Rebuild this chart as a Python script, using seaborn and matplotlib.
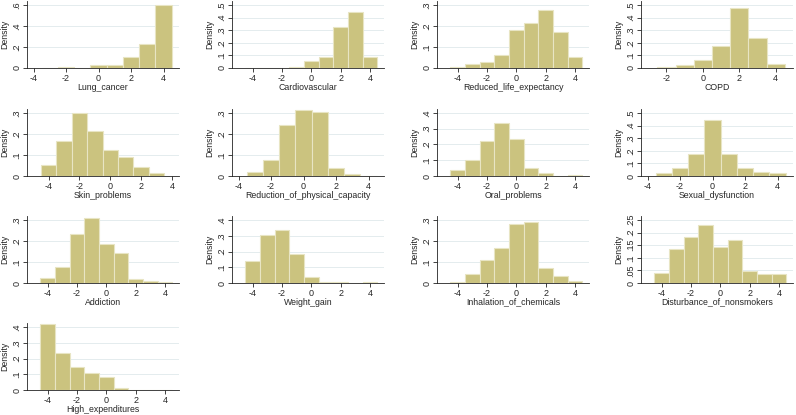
import numpy as np
import pandas as pd
import matplotlib
matplotlib.use("Agg")
import matplotlib.pyplot as plt
import seaborn as sns

# -----------------------------
# DATA (bin centres, density per bin)
# -----------------------------
names = ["Lung_cancer", "Cardiovascular", "Reduced_life_expectancy", "COPD",
         "Skin_problems", "Reduction_of_physical_capacity", "Oral_problems", "Sexual_dysfunction",
         "Addiction", "Weight_gain", "Inhalation_of_chemicals", "Disturbance_of_nonsmokers",
         "High_expenditures"]

lung_cancer = [0.004, 0.007, 0.003, 0.025, 0.031, 0.106, 0.233, 0.600]
cardiovascular = [0.002, 0.002, 0.002, 0.010, 0.052, 0.086, 0.326, 0.445, 0.086]
reduced_life = [0.006, 0.020, 0.028, 0.063, 0.181, 0.213, 0.275, 0.170, 0.053]
copd = [0.010, 0.026, 0.065, 0.177, 0.474, 0.242, 0.029]
skin = [0.050, 0.169, 0.298, 0.216, 0.123, 0.089, 0.045, 0.012]
physical = [0.020, 0.075, 0.241, 0.315, 0.305, 0.039, 0.008, 0.002]
oral = [0.035, 0.104, 0.222, 0.336, 0.232, 0.050, 0.017, 0.003, 0.006]
sexual = [0.021, 0.067, 0.178, 0.448, 0.175, 0.062, 0.034, 0.021]
addiction = [0.023, 0.074, 0.231, 0.311, 0.185, 0.145, 0.018, 0.011, 0.003]
weight = [0.137, 0.304, 0.335, 0.187, 0.037, 0.006, 0.006, 0.0, 0.004]
inhalation = [0.006, 0.045, 0.110, 0.166, 0.280, 0.289, 0.070, 0.034, 0.011]
disturbance = [0.039, 0.134, 0.181, 0.229, 0.143, 0.172, 0.049, 0.034, 0.034]
expenditures = [0.420, 0.235, 0.145, 0.105, 0.080, 0.010, 0.003, 0.003, 0.003]

first_bin = [-3, -4, -4, -2, -4, -3, -4, -3, -4, -4, -4, -4, -4]
series = [lung_cancer, cardiovascular, reduced_life, copd, skin, physical, oral,
          sexual, addiction, weight, inhalation, disturbance, expenditures]

# y axis ticks (step, top)
y_step = [0.2, 0.1, 0.1, 0.1, 0.1, 0.1, 0.1, 0.1, 0.1, 0.1, 0.1, 0.05, 0.1]
y_top = [0.6, 0.5, 0.3, 0.5, 0.3, 0.3, 0.4, 0.5, 0.3, 0.4, 0.3, 0.25, 0.4]

# -----------------------------
# STYLE
# -----------------------------
sns.set_theme(style="white")
plt.rcParams["font.family"] = ["Liberation Sans", "DejaVu Sans"]
plt.rcParams["axes.unicode_minus"] = False

BAR = "#CBC37F"
EDGE = "#E8E5C4"
GRID = "#DFE9EB"
FS = 6.5

fig = plt.figure(figsize=(7.96, 4.15), dpi=100)

col_left = [27, 232, 437, 641]
row_bottom = [68, 176, 283, 390]
W, H = 152, 67


def fmt(v):
    s = f"{v:.2f}".rstrip("0").rstrip(".")
    if s.startswith("0."):
        s = s[1:]
    return s


for i, name in enumerate(names):
    r, c = divmod(i, 4)
    ax = fig.add_axes([col_left[c] / 796, (415 - row_bottom[r]) / 415, W / 796, H / 415])

    vals = series[i]
    centers = np.arange(first_bin[i], first_bin[i] + len(vals))
    df = pd.DataFrame({"x": centers, "d": vals})
    sns.histplot(data=df, x="x", weights="d", discrete=True, ax=ax,
                 color=BAR, edgecolor=EDGE, linewidth=0.8, alpha=1)

    lo = centers[0] - 0.5
    hi = max(centers[-1] + 0.5, 4)
    ax.set_xlim(lo - 0.9, hi + 0.45)
    ax.set_ylim(0, y_top[i] * 67 / 63)

    yt = np.round(np.arange(0, y_top[i] + 1e-9, y_step[i]), 3)
    ax.set_yticks(yt)
    ax.set_yticklabels([fmt(v) for v in yt], rotation=90, va="center")
    xt = [t for t in [-4, -2, 0, 2, 4] if t >= lo - 0.5]
    ax.set_xticks(xt)
    ax.set_xticklabels([str(t) for t in xt])

    ax.yaxis.grid(True, color=GRID, linewidth=0.6)
    ax.set_axisbelow(True)
    for s in ["top", "right"]:
        ax.spines[s].set_visible(False)
    for s in ["left", "bottom"]:
        ax.spines[s].set_color("#222222")
        ax.spines[s].set_linewidth(0.6)
    ax.tick_params(axis="both", which="major", labelsize=FS, length=3, width=0.6,
                   color="#222222", pad=1, direction="out", bottom=True, left=True)
    ax.set_xlabel(name, fontsize=6.3, labelpad=0)
    ax.set_ylabel("Density", fontsize=6.3, labelpad=2)

fig.savefig("out.png", dpi=100, facecolor="white")
